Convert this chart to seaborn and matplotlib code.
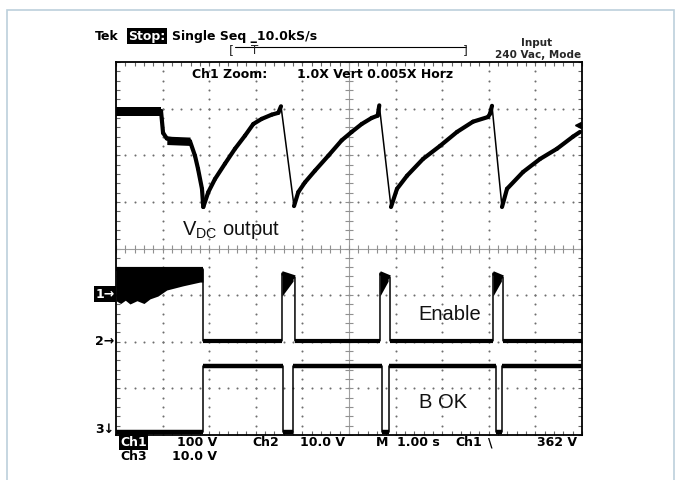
import numpy as np
import matplotlib
matplotlib.use("Agg")
import matplotlib.pyplot as plt
import matplotlib.transforms as mtrans
from matplotlib.collections import LineCollection
from matplotlib.lines import Line2D
from matplotlib.patches import Rectangle
from matplotlib.ticker import MultipleLocator
import seaborn as sns

sns.set_style("white")
plt.rcParams["font.family"] = ["DejaVu Sans"]
plt.rcParams["mathtext.fontset"] = "custom"
plt.rcParams["mathtext.rm"] = "Liberation Sans"

W, H = 675, 481

# ── scope setup ───────────────────────────────────────────────────────────────
# volts per division and ground position (divisions above the bottom of screen)
CH1_VDIV, CH1_GND = 100.0, 3.03
CH2_VDIV, CH2_GND = 10.0, 2.02
CH3_VDIV, CH3_GND = 10.0, 0.064
TRIG_LEVEL = 362          # V, Ch1 falling edge
N_XDIV, N_YDIV = 10, 8    # 1.00 s / div

# ── Ch1: V_DC output (time s, volts) ──────────────────────────────────────────
vdc_t = [0, 0.966, 1.01, 1.09, 1.588, 1.695, 1.76, 1.845, 1.873,
         1.981, 2.124, 2.339, 2.554, 2.768, 2.946, 3.127, 3.341, 3.483, 3.541, 3.82,
         3.912, 4.056, 4.270, 4.556, 4.843, 5.058, 5.273, 5.487, 5.616, 5.650, 5.901,
         6.03, 6.245, 6.588, 6.953, 7.318, 7.661, 7.983, 8.026, 8.069, 8.283,
         8.391, 8.734, 9.099, 9.464, 9.807, 9.957]
vdc_v = [392, 392, 345, 333, 327, 296, 268, 225, 186,
         218, 246, 279, 311, 339, 364, 375, 384, 388, 402, 188,
         218, 239, 264, 296, 329, 347, 364, 377, 382, 404, 186,
         225, 253, 289, 317, 347, 369, 379, 386, 403, 186,
         225, 261, 289, 311, 337, 347]

# ripple bands on the V_DC trace before the first drop-out
vdc_flat_t = [0, 0.966]
vdc_flat_lo = [382, 382]
vdc_flat_hi = [401, 401]
vdc_plat_t = [1.09, 1.59]
vdc_plat_lo = [320, 318]
vdc_plat_hi = [338, 336]

# ── Ch2: Enable (time s, volts) ───────────────────────────────────────────────
en_t = [0, 1.867, 1.867, 3.562, 3.562, 3.84, 3.84, 5.665, 5.665, 5.88, 5.88,
        8.09, 8.09, 8.305, 8.305, 10.0]
en_v = [15.4, 15.4, 0, 0, 14.5, 13.6, 0, 0, 14.5, 13.6, 0,
        0, 14.5, 13.6, 0, 0]
# lower envelope of the noisy "on" state at start
en_start_t = [0, 0.1, 0.2, 0.3, 0.45, 0.6, 0.73, 0.9, 1.09, 1.44, 1.80, 1.867]
en_start_lo = [8.6, 8.0, 8.7, 7.9, 8.6, 8.0, 9.0, 9.6, 10.9, 11.8, 12.6, 12.6]
# enable pulses: on / off times and lower envelope at the pulse start / end
en_on = [3.562, 5.665, 8.09]
en_off = [3.80, 5.84, 8.27]
en_pulse_lo = [9.6, 12.8]
en_pulse_hi = [14.5, 13.8]

# ── Ch3: B OK (time s, volts) ─────────────────────────────────────────────────
bok_t = [0, 1.867, 1.867, 3.584, 3.584, 3.798, 3.798, 5.708, 5.708, 5.858, 5.858,
         8.155, 8.155, 8.283, 8.283, 10.0]
bok_v = [0, 0, 14.2, 14.2, 0, 0, 14.2, 14.2, 0, 0, 14.2,
         14.2, 0, 0, 14.2, 14.2]


def to_div(v, vdiv, gnd):
    return gnd + np.asarray(v, dtype=float) / vdiv


def px(x, y):
    return x / W, 1 - y / H


def trace(ax, t, y, thick_mask, lw_thick, lw_thin=1.1, cap="butt"):
    t = np.asarray(t, dtype=float)
    y = np.asarray(y, dtype=float)
    sns.lineplot(x=t, y=y, sort=False, estimator=None, color="black",
                 lw=lw_thin, ax=ax, legend=False)
    segs = np.stack([np.column_stack([t[:-1], y[:-1]]),
                     np.column_stack([t[1:], y[1:]])], axis=1)
    lc = LineCollection(segs[thick_mask], colors="black", linewidths=lw_thick,
                        capstyle=cap)
    ax.add_collection(lc)


fig = plt.figure(figsize=(W / 100, H / 100), dpi=100)
fig.patch.set_facecolor("white")
fig.patches.append(Rectangle((7 / W, -0.1), 667 / W, 1.1 - 11 / H,
                             transform=fig.transFigure, fill=False,
                             ec="#bcd0dc", lw=1.2))

ax = fig.add_axes([116 / W, (H - 436) / H, 466 / W, 373 / H])
ax.set_xlim(0, N_XDIV)
ax.set_ylim(0, N_YDIV)

# ── graticule ─────────────────────────────────────────────────────────────────
gx = np.arange(0, N_XDIV + 0.01, 0.2)
gy = np.arange(0, N_YDIV + 0.01, 0.2)
for k in range(1, N_XDIV):
    if k == N_XDIV // 2:
        continue
    ax.scatter(np.full_like(gy, k), gy, s=2.2, color="#6e6e6e", lw=0, zorder=1)
for k in range(1, N_YDIV):
    if k == N_YDIV // 2:
        continue
    ax.scatter(gx, np.full_like(gx, k), s=2.2, color="#6e6e6e", lw=0, zorder=1)
ax.axvline(N_XDIV / 2, color="#a0a0a0", lw=0.8, zorder=1)
ax.axhline(N_YDIV / 2, color="#a0a0a0", lw=0.8, zorder=1)
ax.plot(np.full_like(gy, N_XDIV / 2), gy, ls="none", marker="_", ms=6,
        mew=0.8, color="#909090", zorder=1)
ax.plot(gx, np.full_like(gx, N_YDIV / 2), ls="none", marker="|", ms=6,
        mew=0.8, color="#909090", zorder=1)

ax.xaxis.set_major_locator(MultipleLocator(1))
ax.yaxis.set_major_locator(MultipleLocator(1))
ax.xaxis.set_minor_locator(MultipleLocator(0.2))
ax.yaxis.set_minor_locator(MultipleLocator(0.2))
ax.tick_params(which="both", direction="in", length=3, width=0.8,
               color="#666666", top=True, right=True, bottom=True, left=True,
               labelbottom=False, labelleft=False)
for s in ax.spines.values():
    s.set_color("black")
    s.set_linewidth(1.3)
ax.set_xlabel("")
ax.set_ylabel("")

# ── Ch1 trace ────────────────────────────────────────────────────────────────
y1 = to_div(vdc_v, CH1_VDIV, CH1_GND)
slow = np.diff(vdc_v) > -60
trace(ax, vdc_t, y1, slow, 3.0, cap="round")
ax.fill_between(vdc_flat_t, to_div(vdc_flat_lo, CH1_VDIV, CH1_GND),
                to_div(vdc_flat_hi, CH1_VDIV, CH1_GND), color="black", lw=0)
ax.fill_between(vdc_plat_t, to_div(vdc_plat_lo, CH1_VDIV, CH1_GND),
                to_div(vdc_plat_hi, CH1_VDIV, CH1_GND), color="black", lw=0)
ax.plot([N_XDIV - 0.08], to_div([TRIG_LEVEL], CH1_VDIV, CH1_GND), marker="<",
        ms=5, color="black", ls="none")

# ── Ch2 trace ────────────────────────────────────────────────────────────────
y2 = to_div(en_v, CH2_VDIV, CH2_GND)
trace(ax, en_t, y2, np.diff(en_t) > 0, 3.0)
ax.fill_between(en_start_t, to_div(en_start_lo, CH2_VDIV, CH2_GND),
                to_div(15.4, CH2_VDIV, CH2_GND), color="black", lw=0)
for t_on, t_off in zip(en_on, en_off):
    ax.fill_between([t_on, t_off], to_div(en_pulse_lo, CH2_VDIV, CH2_GND),
                    to_div(en_pulse_hi, CH2_VDIV, CH2_GND), color="black", lw=0)

# ── Ch3 trace ────────────────────────────────────────────────────────────────
y3 = to_div(bok_v, CH3_VDIV, CH3_GND)
trace(ax, bok_t, y3, np.diff(bok_t) > 0, 3.2)

# ── trace labels ─────────────────────────────────────────────────────────────
lab = dict(fontsize=14.5, family="Liberation Sans", color="#111111",
           ha="left", va="baseline")
ax.text(1.42, 4.31, r"V$_{\mathrm{DC}}$ output", **lab)
ax.text(6.48, 2.49, "Enable", **lab)
ax.text(6.50, 0.60, "B OK", **lab)

# channel ground markers
blend = mtrans.blended_transform_factory(ax.transAxes, ax.transData)
mk = dict(transform=blend, ha="right", va="center", fontsize=9,
          fontweight="bold")
ax.text(-0.003, CH1_GND, "1→", color="white",
        bbox=dict(boxstyle="square,pad=0.12", fc="black", ec="none"), **mk)
ax.text(-0.003, CH2_GND, "2→", color="black", **mk)
ax.text(-0.003, 0.13, "3↓", color="black", **mk)

# ── scope status text ────────────────────────────────────────────────────────
st = dict(fontsize=9, fontweight="bold", va="center", ha="left", color="black")
inv = dict(boxstyle="square,pad=0.12", fc="black", ec="none")
fig.text(*px(95, 37), "Tek", **st)
fig.text(*px(128, 37), "Stop:", bbox=inv, **{**st, "color": "white"})
fig.text(*px(172, 37), "Single Seq _10.0kS/s", **st)
fig.text(*px(229, 51), "[", fontsize=9, va="center", ha="left")
fig.text(*px(463, 51), "]", fontsize=9, va="center", ha="left")
fig.add_artist(Line2D([235 / W, 466 / W], [1 - 48 / H, 1 - 48 / H],
                      color="black", lw=0.8))
fig.text(*px(251, 50), "T", fontsize=8.5, va="center", ha="left")
fig.text(*px(537, 43), "Input", fontsize=7.5, fontweight="bold",
         ha="center", va="center")
fig.text(*px(538, 55), "240 Vac, Mode", fontsize=7.5, fontweight="bold",
         ha="center", va="center")
fig.text(*px(192, 75), "Ch1 Zoom:", **st)
fig.text(*px(297, 75), "1.0X Vert 0.005X Horz", **st)

fig.text(*px(120, 443), "Ch1", bbox=inv, **{**st, "color": "white"})
fig.text(*px(177, 443), "100 V", **st)
fig.text(*px(252, 443), "Ch2", **st)
fig.text(*px(300, 443), "10.0 V", **st)
fig.text(*px(376, 443), "M", **st)
fig.text(*px(397, 443), "1.00 s", **st)
fig.text(*px(455, 443), "Ch1", **st)
fig.text(*px(488, 443), "\\", **st)
fig.text(*px(537, 443), "362 V", **st)
fig.text(*px(120, 457), "Ch3", **st)
fig.text(*px(172, 457), "10.0 V", **st)

fig.savefig("out.png", dpi=100, facecolor="white")
